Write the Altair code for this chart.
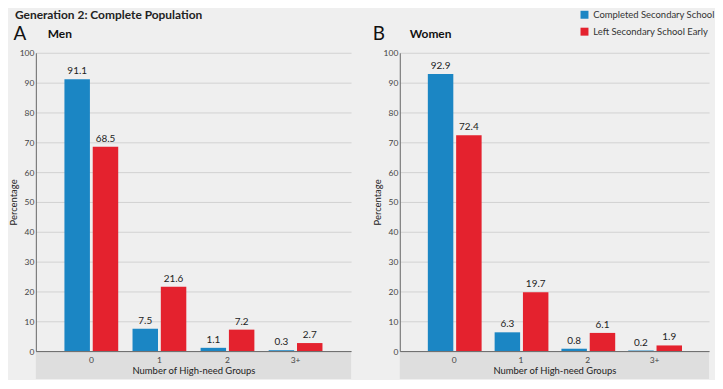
import altair as alt
import pandas as pd

categories = ["0", "1", "2", "3+"]
series = ["Completed Secondary School", "Left Secondary School Early"]
men_completed = [91.1, 7.5, 1.1, 0.3]
men_left = [68.5, 21.6, 7.2, 2.7]
women_completed = [92.9, 6.3, 0.8, 0.2]
women_left = [72.4, 19.7, 6.1, 1.9]
colors = ["#1b86c4", "#e4222e"]

FONT = "Lato"
H = 300


def make_df(completed, left):
    rows = []
    for c, a, b in zip(categories, completed, left):
        rows.append({"group": c, "series": series[0], "value": a})
        rows.append({"group": c, "series": series[1], "value": b})
    return pd.DataFrame(rows)


one = pd.DataFrame({"k": [0]})


def panel(df, letter, name, W, letter_x, name_x, show_legend, main_title=None):
    base = alt.Chart(df)
    x = alt.X("group:N", sort=categories,
              scale=alt.Scale(paddingInner=0.21, paddingOuter=0.42),
              axis=alt.Axis(title="Number of High-need Groups", labelAngle=0,
                            ticks=False, domainColor="#666", labelPadding=4,
                            titlePadding=2, zindex=1))
    xo = alt.XOffset("series:N", sort=series, scale=alt.Scale(paddingInner=0.1))
    if show_legend:
        leg = alt.Legend(title=None, orient="none", legendX=181, legendY=-43,
                         symbolType="square", symbolSize=64, labelFontSize=9.5,
                         labelColor="#333", rowPadding=6, padding=0,
                         labelFont=FONT, symbolStrokeWidth=0)
    else:
        leg = None
    color = alt.Color("series:N", sort=series,
                      scale=alt.Scale(domain=series, range=colors), legend=leg)
    y = alt.Y("value:Q", scale=alt.Scale(domain=[0, 100]),
              axis=alt.Axis(title="Percentage", values=list(range(0, 101, 10)),
                            ticks=False, domainColor="#666", gridColor="#d2d2d2",
                            labelPadding=2, titlePadding=1))
    band = alt.Chart(one).mark_rect(color="#dedede").encode(
        x=alt.value(0), x2=alt.value(W), y=alt.value(H + 1), y2=alt.value(H + 28))
    bars = base.mark_bar().encode(x=x, xOffset=xo, y=y, color=color)
    labels = base.mark_text(baseline="bottom", dy=-3, fontSize=10,
                            color="#222", font=FONT).encode(
        x=x, xOffset=xo, y=y, text=alt.Text("value:Q", format=".1f"))
    let = alt.Chart(one).mark_text(align="center", baseline="middle", fontSize=19,
                                   font=FONT, color="#111").encode(
        x=alt.value(letter_x), y=alt.value(-19), text=alt.value(letter))
    nm = alt.Chart(one).mark_text(align="left", baseline="middle", fontSize=12,
                                  fontWeight="bold", font=FONT, color="#111").encode(
        x=alt.value(name_x), y=alt.value(-19), text=alt.value(name))
    layers = [band, bars, labels, let, nm]
    if main_title:
        mt = alt.Chart(one).mark_text(align="left", baseline="middle", fontSize=12,
                                      fontWeight="bold", font=FONT, color="#222").encode(
            x=alt.value(-21), y=alt.value(-38), text=alt.value(main_title))
        layers.append(mt)
    return alt.layer(*layers).properties(width=W, height=H)


left = panel(make_df(men_completed, men_left), "A", "Men", 317, -16, 12, False,
             "Generation 2:  Complete Population")
right = panel(make_df(women_completed, women_left), "B", "Women", 311, -21, 10, True)

chart = alt.hconcat(left, right, spacing=21).resolve_scale(color="independent").properties(
    background="#efefef", padding={"left": 0, "top": 0, "right": 0, "bottom": 0}
).configure_view(stroke=None).configure_axis(
    labelFont=FONT, titleFont=FONT, labelFontSize=8.5, titleFontSize=9.5,
    labelColor="#444", titleColor="#222", titleFontWeight="normal"
)

chart.save("out.html", embed_options={"renderer": "svg", "actions": False})
